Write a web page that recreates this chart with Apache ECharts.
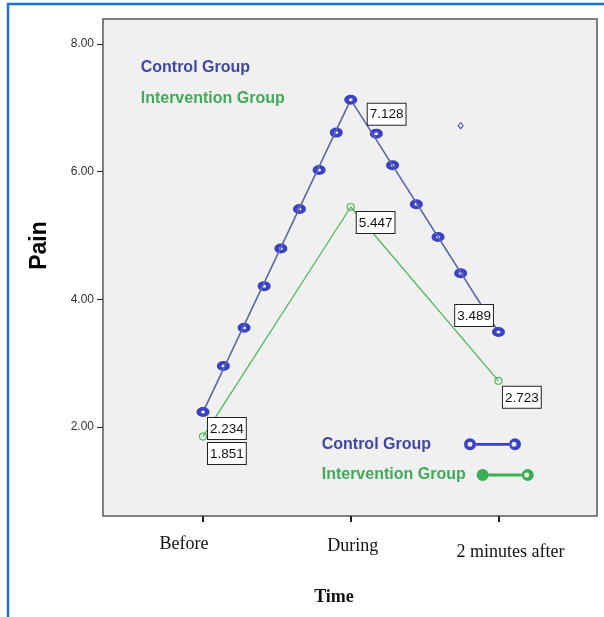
<!DOCTYPE html>
<html>
<head>
<meta charset="utf-8">
<script src="https://cdn.jsdelivr.net/npm/echarts@6/dist/echarts.min.js"></script>
<style>
html,body{margin:0;padding:0;background:#fff;}
#chart{width:604px;height:617px;}
</style>
</head>
<body>
<div id="chart"></div>
<script>
// ---- data ----
const timeLabels = ['Before', 'During', '2 minutes after'];
const timePositions = [0, 1, 2];
const controlMeans = [2.234, 7.128, 3.489];
const interventionMeans = [1.851, 5.447, 2.723];
// extra control-group ring markers visible along the blue line (x in time units)
const controlExtraX = [0.138, 0.278, 0.414, 0.527, 0.653, 0.786, 0.902, 1.173, 1.283, 1.444, 1.591, 1.744];
const controlExtraY = [2.955, 3.554, 4.207, 4.797, 5.416, 6.027, 6.612, 6.596, 6.100, 5.490, 4.978, 4.410];
// stray small marker
const strayX = [1.744];
const strayY = [6.721];
const yTicks = [2, 4, 6, 8];

// ---- styles ----
const BLUE = '#3a41c4';
const BLUE_LINE = '#5a68a8';
const BLUE_TEXT = '#3f47a6';
const GREEN = '#4fb85e';
const GREEN_TEXT = '#3faa58';

const controlLabelLayout = [
  {align: 'left', verticalAlign: 'top', offset: [5, 6]},
  {align: 'left', verticalAlign: 'top', offset: [17, 4]},
  {align: 'right', verticalAlign: 'bottom', offset: [-5.5, -6]}
];
const interventionLabelLayout = [
  {align: 'left', verticalAlign: 'top', offset: [5, 6.5]},
  {align: 'left', verticalAlign: 'top', offset: [6, 5]},
  {align: 'left', verticalAlign: 'top', offset: [4.5, 6]}
];
const boxLabel = {
  show: true,
  position: 'inside',
  fontFamily: 'Liberation Sans',
  fontSize: 13.5,
  color: '#111',
  backgroundColor: '#fff',
  borderColor: '#222',
  borderWidth: 1,
  padding: [4, 2, 3, 2],
  formatter: p => p.value[1].toFixed(3)
};
function pts(xs, ys, layouts) {
  return xs.map((x, i) => {
    const item = {value: [x, ys[i]]};
    if (layouts) item.label = Object.assign({}, boxLabel, layouts[i]);
    return item;
  });
}

const ringL = 'M0,6 A6,6 0 1,0 12,6 A6,6 0 1,0 0,6 Z M3.5,6 A2.5,2.5 0 1,1 8.5,6 A2.5,2.5 0 1,1 3.5,6 Z';
const ringR = 'M45,6 A6,6 0 1,0 57,6 A6,6 0 1,0 45,6 Z M47.5,6 A2.5,2.5 0 1,1 52.5,6 A2.5,2.5 0 1,1 47.5,6 Z';
const dotL = 'M0,6 A6,6 0 1,0 12,6 A6,6 0 1,0 0,6 Z';
const bar = 'M12,4.6 L45,4.6 L45,7.4 L12,7.4 Z';
const blueIcon = 'path://' + ringL + ' ' + bar + ' ' + ringR;
const greenIcon = 'path://' + dotL + ' ' + bar + ' ' + ringR;

const legendText = {fontFamily: 'Liberation Sans', fontWeight: 'bold', fontSize: 16};
const markerStyle = {color: '#eeeefa', borderColor: BLUE, borderWidth: 4, opacity: 1};

const chart = echarts.init(document.getElementById('chart'), null, {renderer: 'canvas'});
chart.setOption({
  animation: false,
  backgroundColor: '#fff',
  graphic: [{
    type: 'rect',
    shape: {x: 8, y: 4, width: 700, height: 700},
    style: {fill: 'none', stroke: '#1a74c6', lineWidth: 2.5},
    silent: true, z: 100
  }],
  grid: {
    left: 103, top: 19, right: 7, bottom: 101,
    show: true, backgroundColor: '#f0f0f0', borderColor: '#5a5a5a', borderWidth: 1.5,
    containLabel: false
  },
  legend: [
    {
      data: [
        {name: 'Control Group', textStyle: {color: BLUE_TEXT}},
        {name: 'Intervention Group', textStyle: {color: GREEN_TEXT}}
      ],
      orient: 'vertical', left: 135.7, top: 59.3, padding: 0,
      icon: 'none', itemWidth: 0, itemHeight: 16, itemGap: 15,
      textStyle: legendText, selectedMode: false
    },
    {
      data: [{name: 'Control Group', icon: blueIcon, itemStyle: {color: BLUE, borderWidth: 0},
              textStyle: {color: BLUE_TEXT, padding: [0, 28, 0, 0]}}],
      orient: 'vertical', left: 321.7, top: 436.3, padding: 0, align: 'right',
      itemWidth: 57, itemHeight: 12, textStyle: legendText, selectedMode: false
    },
    {
      data: [{name: 'Intervention Group', icon: greenIcon, itemStyle: {color: '#3cae52', borderWidth: 0},
              textStyle: {color: GREEN_TEXT, padding: [0, 6, 6, 0]}}],
      orient: 'vertical', left: 321.7, top: 467, padding: 0, align: 'right',
      itemWidth: 57, itemHeight: 12, textStyle: legendText, selectedMode: false
    }
  ],
  xAxis: {
    type: 'value', min: -0.677, max: 2.667,
    name: 'Time', nameLocation: 'middle', nameGap: 72,
    nameTextStyle: {fontFamily: 'Liberation Serif', fontWeight: 'bold', fontSize: 18, color: '#111', padding: [0, 32, 0, 0]},
    axisLine: {show: false, onZero: false},
    splitLine: {show: false},
    axisTick: {show: true, customValues: timePositions, length: 6, lineStyle: {color: '#222', width: 2}},
    axisLabel: {
      customValues: timePositions, margin: 19,
      fontFamily: 'Liberation Serif', fontSize: 18, color: '#111',
      formatter: v => {
        const i = Math.round(v);
        return '{l' + i + '|' + timeLabels[i] + '}';
      },
      rich: {
        l0: {fontFamily: 'Liberation Serif', fontSize: 18, color: '#111', lineHeight: 18, padding: [0, 38, 0, 0]},
        l1: {fontFamily: 'Liberation Serif', fontSize: 18, color: '#111', lineHeight: 22, padding: [0, 0, 0, 4]},
        l2: {fontFamily: 'Liberation Serif', fontSize: 18, color: '#111', lineHeight: 34, padding: [0, 0, 0, 24]}
      }
    }
  },
  yAxis: {
    type: 'value', min: 0.606, max: 8.392,
    name: 'Pain', nameLocation: 'middle', nameGap: 52,
    nameTextStyle: {fontFamily: 'Liberation Sans', fontWeight: 'bold', fontSize: 23, color: '#000', padding: [0, 0, 0, 44]},
    axisLine: {show: false, onZero: false},
    splitLine: {show: false},
    axisTick: {show: true, customValues: yTicks, length: 6, lineStyle: {color: '#333', width: 1.2}},
    axisLabel: {
      customValues: yTicks, margin: 9,
      fontFamily: 'Liberation Sans', fontSize: 12, color: '#333',
      formatter: v => v.toFixed(2)
    }
  },
  series: [
    {
      name: 'Intervention Group', type: 'line', z: 2,
      data: pts(timePositions, interventionMeans, interventionLabelLayout),
      lineStyle: {color: GREEN, width: 1.3},
      symbol: 'circle', symbolSize: 7,
      itemStyle: {color: 'rgba(240,240,240,0)', borderColor: GREEN, borderWidth: 1.2}
    },
    {
      name: 'Control Group', type: 'scatter', z: 3,
      data: pts(controlExtraX, controlExtraY),
      symbol: 'circle', symbolSize: [8.5, 6.5],
      itemStyle: markerStyle
    },
    {
      name: 'Control Group', type: 'line', z: 4,
      data: pts(timePositions, controlMeans, controlLabelLayout),
      lineStyle: {color: BLUE_LINE, width: 1.6},
      symbol: 'circle', symbolSize: [8.5, 6.5],
      itemStyle: markerStyle
    },
    {
      name: 'stray', type: 'scatter', z: 3,
      data: pts(strayX, strayY),
      symbol: 'diamond', symbolSize: [5, 6],
      itemStyle: {color: '#f0f0f0', borderColor: BLUE, borderWidth: 1, opacity: 1}
    }
  ]
});
</script>
</body>
</html>
